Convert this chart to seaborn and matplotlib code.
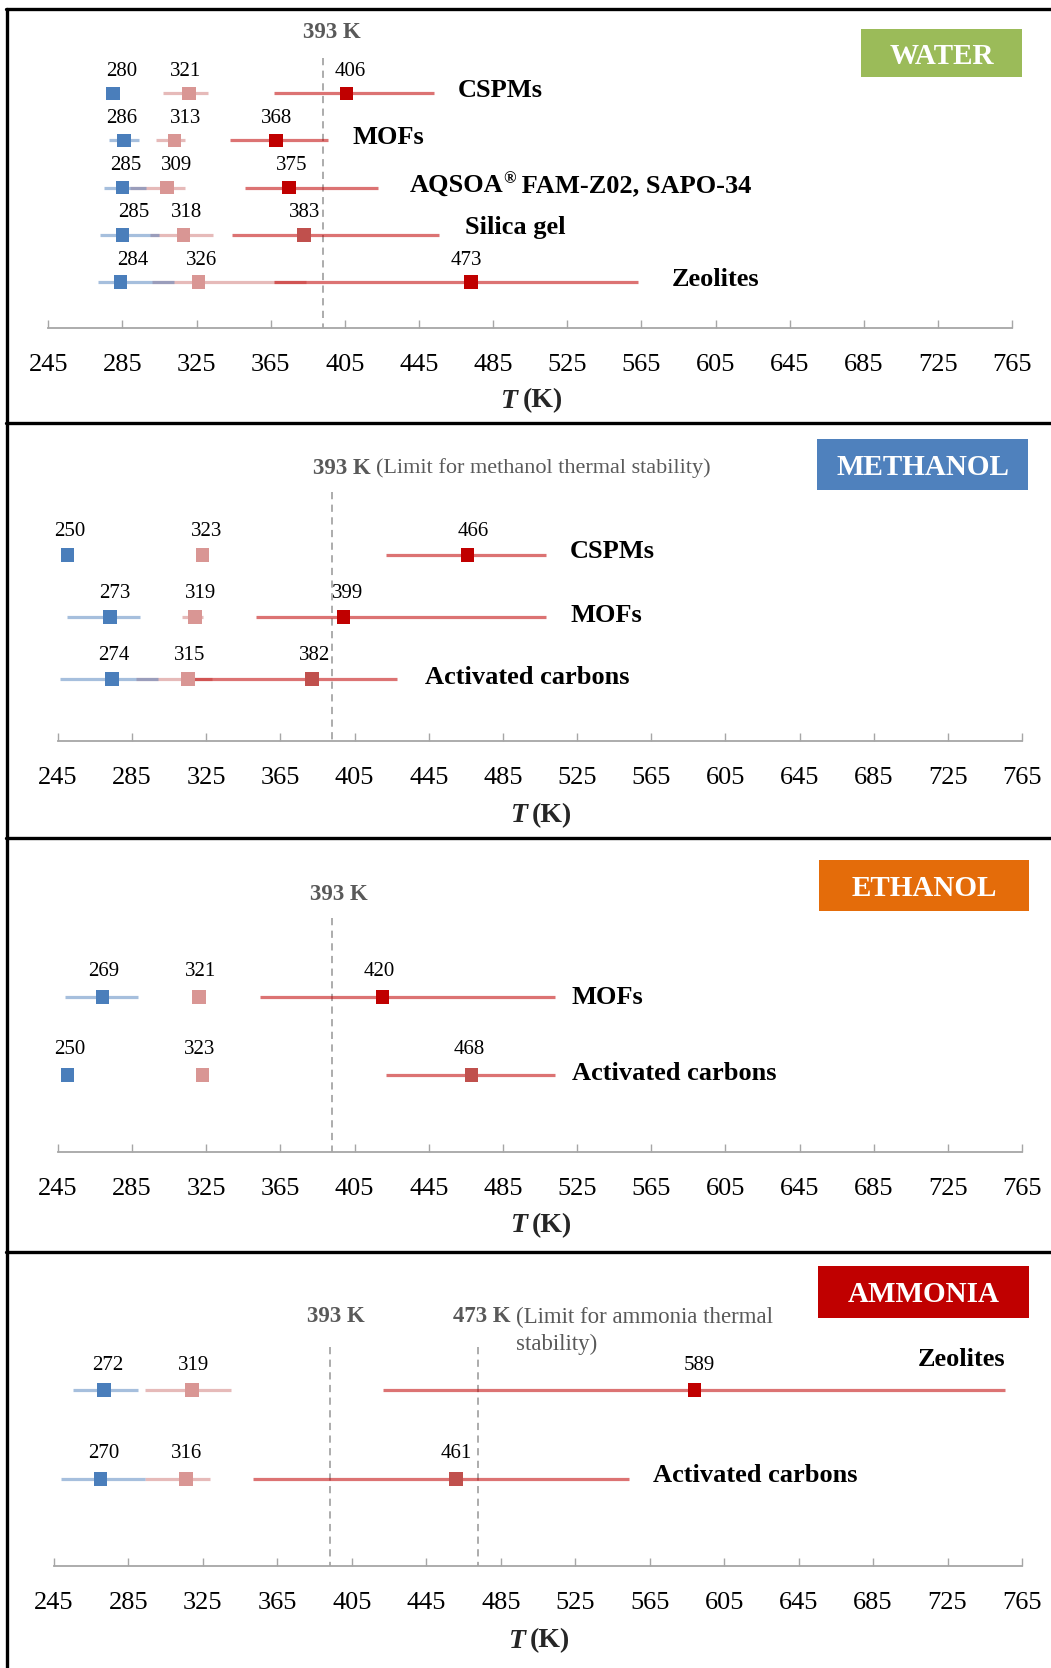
import numpy as np
import pandas as pd
import matplotlib
matplotlib.use("Agg")
import matplotlib.pyplot as plt
from matplotlib.patches import Rectangle
from matplotlib.lines import Line2D
import seaborn as sns

# ---------------- data (temperatures in K) ----------------
# evap = evaporator side (blue), cond = condenser side (pink), des = desorption (red)
water_rows = ["CSPMs", "MOFs", "AQSOA® FAM-Z02, SAPO-34", "Silica gel", "Zeolites"]
water_evap = [280, 286, 285, 285, 284]
water_evap_lo = [np.nan, 278, 275, 273, 272]
water_evap_hi = [np.nan, 294, 298, 305, 313]
water_cond = [321, 313, 309, 318, 326]
water_cond_lo = [307, 303, 289, 300, 301]
water_cond_hi = [331, 319, 319, 334, 384]
water_des = [406, 368, 375, 383, 473]
water_des_lo = [367, 343, 351, 344, 367]
water_des_hi = [453, 396, 423, 456, 563]

methanol_rows = ["CSPMs", "MOFs", "Activated carbons"]
methanol_evap = [250, 273, 274]
methanol_evap_lo = [np.nan, 250, 246]
methanol_evap_hi = [np.nan, 289, 299]
methanol_cond = [323, 319, 315]
methanol_cond_lo = [np.nan, 312, 287]
methanol_cond_hi = [np.nan, 323, 328]
methanol_des = [466, 399, 382]
methanol_des_lo = [422, 352, 317]
methanol_des_hi = [508, 508, 428]

ethanol_rows = ["MOFs", "Activated carbons"]
ethanol_evap = [269, 250]
ethanol_evap_lo = [249, np.nan]
ethanol_evap_hi = [288, np.nan]
ethanol_cond = [321, 323]
ethanol_cond_lo = [np.nan, np.nan]
ethanol_cond_hi = [np.nan, np.nan]
ethanol_des = [420, 468]
ethanol_des_lo = [354, 422]
ethanol_des_hi = [513, 513]

ammonia_rows = ["Zeolites", "Activated carbons"]
ammonia_evap = [272, 270]
ammonia_evap_lo = [255, 249]
ammonia_evap_hi = [290, 294]
ammonia_cond = [319, 316]
ammonia_cond_lo = [294, 294]
ammonia_cond_hi = [340, 329]
ammonia_des = [589, 461]
ammonia_des_lo = [422, 352]
ammonia_des_hi = [756, 554]

tick_values = list(range(245, 766, 40))

# ---------------- styling ----------------
W, H = 1051, 1668
SERIF = ["Liberation Serif", "DejaVu Serif"]
sns.set_theme(style="white")
plt.rcParams["font.family"] = SERIF

MARK = {"evap": "#4a7ebb", "cond": "#d99694", "deep": "#c00000", "soft": "#c0504d"}
LINE = {"evap": ("#4f81bd", 0.50), "cond": ("#d99694", 0.65), "des": ("#c00000", 0.55)}
GREY = "#595959"

panels = [
    dict(name="WATER", badge="#9bbb59",
         rows=water_rows,
         evap=(water_evap, water_evap_lo, water_evap_hi),
         cond=(water_cond, water_cond_lo, water_cond_hi),
         des=(water_des, water_des_lo, water_des_hi),
         des_shade=["deep", "deep", "deep", "soft", "deep"],
         lay=dict(top=9, bottom=423, x245=48.2, x765=1012.3, row0=93.3, step=47.2,
                  axis=328, T=401, ref_top=58, ref_y=32,
                  badge=(861, 29, 1022, 77),
                  vdy=22, evap_dx=[9, -3, 3, 11, 12], cond_dx=[-4, 11, 10, 3, 3],
                  des_dx=[4, 0, 2, 1, -5],
                  name_dx=[24, 24, 32, 26, 34], name_dy=[3, 3, 2, 7, 3],
                  name_ha=["left"] * 5)),
    dict(name="METHANOL", badge="#4f81bd",
         rows=methanol_rows,
         evap=(methanol_evap, methanol_evap_lo, methanol_evap_hi),
         cond=(methanol_cond, methanol_cond_lo, methanol_cond_hi),
         des=(methanol_des, methanol_des_lo, methanol_des_hi),
         des_shade=["deep", "deep", "soft"],
         lay=dict(top=423, bottom=838, x245=58, x765=1022, row0=555, step=62,
                  axis=741, T=816, ref_top=492, ref_y=468,
                  badge=(817, 439, 1028, 490),
                  vdy=24, evap_dx=[2, 5, 2], cond_dx=[4, 5, 2], des_dx=[6, 4, 3],
                  name_dx=[24, 25, 28], name_dy=[4, 2, 1],
                  name_ha=["left"] * 3)),
    dict(name="ETHANOL", badge="#e46c0a",
         rows=ethanol_rows,
         evap=(ethanol_evap, ethanol_evap_lo, ethanol_evap_hi),
         cond=(ethanol_cond, ethanol_cond_lo, ethanol_cond_hi),
         des=(ethanol_des, ethanol_des_lo, ethanol_des_hi),
         des_shade=["deep", "soft"],
         lay=dict(top=838, bottom=1252, x245=58, x765=1022, row0=997, step=78,
                  axis=1152, T=1226, ref_top=918, ref_y=895,
                  badge=(819, 860, 1029, 911),
                  vdy=25, evap_dx=[1, 2], cond_dx=[2, -3], des_dx=[-3, -2],
                  name_dx=[17, 17], name_dy=[0, 2],
                  name_ha=["left"] * 2)),
    dict(name="AMMONIA", badge="#c00000",
         rows=ammonia_rows,
         evap=(ammonia_evap, ammonia_evap_lo, ammonia_evap_hi),
         cond=(ammonia_cond, ammonia_cond_lo, ammonia_cond_hi),
         des=(ammonia_des, ammonia_des_lo, ammonia_des_hi),
         des_shade=["deep", "soft"],
         lay=dict(top=1252, bottom=1668, x245=54, x765=1022, row0=1390, step=89,
                  axis=1566, T=1641, ref_top=1347, ref_y=1317,
                  badge=(818, 1266, 1029, 1318),
                  vdy=25, evap_dx=[3, 3], cond_dx=[2, 0], des_dx=[5, 0],
                  name_dx=[0, 24], name_dy=[30, 4],
                  name_ha=["right", "left"])),
]

fig = plt.figure(figsize=(W / 100, H / 100), dpi=100)


def fx(px):
    return px / W


def fy(py):
    return 1 - py / H


def chain(ax, prev, text, dx=0, **kw):
    """Place text immediately to the right of a previous text artist."""
    return ax.annotate(text, xy=(1, 0), xycoords=prev, xytext=(dx, 0),
                       textcoords="offset pixels", ha="left", va="bottom", **kw)


def draw_panel(p):
    L = p["lay"]
    top, bot = L["top"], L["bottom"]
    ax = fig.add_axes([0, fy(bot), 1, (bot - top) / H])
    ax.set_facecolor("none")
    ppk = (L["x765"] - L["x245"]) / 520.0
    ax.set_xlim(245 - L["x245"] / ppk, 245 + (W - L["x245"]) / ppk)

    def idx(py):
        return (py - L["row0"]) / L["step"]

    ax.set_ylim(idx(bot), idx(top))
    n = len(p["rows"])
    rows = np.arange(n)

    # range bars
    for key in ("cond", "evap", "des"):
        vals, lo, hi = p[key]
        col, alpha = LINE[key]
        lo = np.asarray(lo, float)
        hi = np.asarray(hi, float)
        ok = ~np.isnan(lo)
        ax.hlines(rows[ok], lo[ok], hi[ok], colors=col, alpha=alpha, lw=2.3, zorder=2)

    # square markers
    recs = []
    for key in ("evap", "cond", "des"):
        vals = p[key][0]
        for i, v in enumerate(vals):
            shade = key if key != "des" else p["des_shade"][i]
            recs.append(dict(T=v, row=i, shade=shade))
    df = pd.DataFrame(recs)
    sns.scatterplot(data=df, x="T", y="row", hue="shade", palette=MARK, marker="s",
                    s=95, linewidth=0, legend=False, ax=ax, zorder=4)
    ax.set_xlabel("")
    ax.set_ylabel("")

    # value labels
    for key in ("evap", "cond", "des"):
        vals = p[key][0]
        for i, v in enumerate(vals):
            ax.annotate(f"{v:g}", (v, i), xytext=(L[key + "_dx"][i], L["vdy"]),
                        textcoords="offset pixels", ha="center", va="center",
                        fontsize=15, color="black", zorder=5)

    # material names
    for i, name in enumerate(p["rows"]):
        x = p["des"][2][i]
        ha = L["name_ha"][i]
        kw = dict(fontsize=19, fontweight="bold", color="black")
        if "®" in name:
            a, b = name.split("®")
            t1 = ax.annotate(a, (x, i), xytext=(L["name_dx"][i], L["name_dy"][i]),
                             textcoords="offset pixels", ha=ha, va="center", **kw)
            t2 = ax.annotate("®", xy=(1, 0.42), xycoords=t1, xytext=(-1, 0),
                             textcoords="offset pixels", ha="left", va="bottom",
                             fontsize=12, fontweight="bold", color="black")
            ax.annotate(b, xy=(1, 0), xycoords=(t2, t1), ha="left", va="bottom", **kw)
        else:
            ax.annotate(name, (x, i), xytext=(L["name_dx"][i], L["name_dy"][i]),
                        textcoords="offset pixels", ha=ha, va="center", **kw)

    # x axis
    for s in ("top", "left", "right"):
        ax.spines[s].set_visible(False)
    sp = ax.spines["bottom"]
    sp.set_position(("data", idx(L["axis"])))
    sp.set_bounds(245, 765)
    sp.set_color("#a6a6a6")
    sp.set_linewidth(1.3)
    ax.set_xticks(tick_values)
    ax.set_xticklabels([str(t) for t in tick_values])
    ax.set_yticks([])
    ax.tick_params(axis="x", direction="in", length=6, width=1.0, color="#a6a6a6",
                   labelsize=19, labelcolor="black", pad=18.5, bottom=True)

    # axis title T (K)
    t = ax.annotate("T", xy=(505, idx(L["T"])), xytext=(-12, 0), textcoords="offset pixels",
                    ha="right", va="center", fontsize=20, fontweight="bold",
                    fontstyle="italic")
    chain(ax, t, "(K)", dx=4, fontsize=20, fontweight="bold")

    # reference temperatures
    ref_kw = dict(colors="#a6a6a6", linestyles=(0, (4, 3)), lw=1.3, zorder=1)
    ax.vlines(393, idx(L["ref_top"]), idx(L["axis"]), **ref_kw)
    lab = dict(fontsize=16.5, color=GREY)
    ry = idx(L["ref_y"])
    if p["name"] == "WATER":
        ax.annotate("393 K", (393, ry), xytext=(9, 0), textcoords="offset pixels",
                    ha="center", va="center", fontweight="bold", **lab)
    elif p["name"] == "METHANOL":
        t1 = ax.annotate("393 K", (393, ry), xytext=(-19, 0), textcoords="offset pixels",
                         ha="left", va="center", fontweight="bold", **lab)
        chain(ax, t1, "(Limit for methanol thermal stability)", dx=5,
              fontsize=16, color=GREY)
    elif p["name"] == "ETHANOL":
        ax.annotate("393 K", (393, ry), xytext=(7, 0), textcoords="offset pixels",
                    ha="center", va="center", fontweight="bold", **lab)
    else:
        ax.vlines(473, idx(L["ref_top"]), idx(L["axis"]), **ref_kw)
        ax.annotate("393 K", (393, ry), xytext=(6, 0), textcoords="offset pixels",
                    ha="center", va="center", fontweight="bold", **lab)
        t1 = ax.annotate("473 K", (473, ry), xytext=(-25, 0), textcoords="offset pixels",
                         ha="left", va="center", fontweight="bold", **lab)
        ax.annotate("(Limit for ammonia thermal\nstability)", xy=(1, 1), xycoords=t1,
                    xytext=(5, 0), textcoords="offset pixels", ha="left", va="top",
                    multialignment="left", linespacing=1.35, **lab)

    # fluid badge
    x0, y0, x1, y1 = L["badge"]
    fig.add_artist(Rectangle((fx(x0), fy(y1)), fx(x1) - fx(x0), fy(y0) - fy(y1),
                             transform=fig.transFigure, facecolor=p["badge"],
                             edgecolor="none", zorder=3))
    fig.text(fx((x0 + x1) / 2), fy((y0 + y1) / 2 + 3), p["name"], ha="center",
             va="center", fontsize=21, fontweight="bold", color="white", zorder=4)
    return ax


for p in panels:
    draw_panel(p)

# panel frames
frame = dict(color="black", lw=2.4, transform=fig.transFigure, zorder=10)
fig.add_artist(Line2D([fx(6.5), fx(6.5)], [fy(8.5), 0], **frame))
for yy in (8.5, 423, 838, 1252):
    fig.add_artist(Line2D([fx(5.5), 1], [fy(yy), fy(yy)], **frame))

fig.savefig("out.png", dpi=100, facecolor="white")
